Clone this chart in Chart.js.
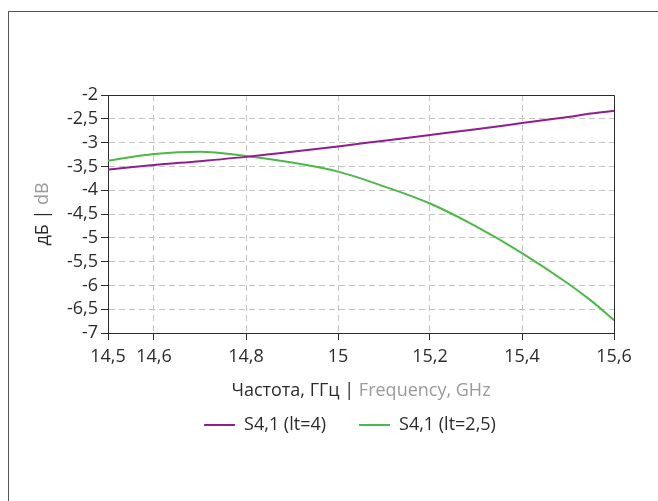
<!DOCTYPE html>
<html>
<head>
<meta charset="utf-8">
<script src="https://cdn.jsdelivr.net/npm/chart.js@4.4.1/dist/chart.umd.min.js"></script>
<style>
  html, body { margin: 0; padding: 0; background: #fff; overflow: hidden; }
</style>
</head>
<body>
<canvas id="chart" width="658" height="501"></canvas>
<script>
// frequency, GHz
const freq = [14.5, 14.6, 14.7, 14.8, 14.9, 15.0, 15.1, 15.2, 15.3, 15.4, 15.5, 15.55, 15.6];
// S4,1, dB
const s41Lt4 = [-3.57, -3.47, -3.39, -3.30, -3.19, -3.08, -2.96, -2.84, -2.72, -2.59, -2.46, -2.39, -2.33];
const s41Lt25 = [-3.38, -3.24, -3.19, -3.28, -3.42, -3.61, -3.92, -4.28, -4.76, -5.32, -5.96, -6.32, -6.73];

const seriesLabels = ['S4,1 (lt=4)', 'S4,1 (lt=2,5)'];
const xTicks = [14.5, 14.6, 14.8, 15.0, 15.2, 15.4, 15.6];
const yTicks = [-2, -2.5, -3, -3.5, -4, -4.5, -5, -5.5, -6, -6.5, -7];
const xTitle = ['Частота, ГГц | ', 'Frequency, GHz'];
const yTitle = ['дБ | ', 'dB'];

const FONT = '"Open Sans", "Noto Sans", sans-serif';
const FS = 18;
const DARK = '#2b2b2b';
const GREY = '#9a9a9a';

const fmt = v => String(Math.round(v * 100) / 100).replace('.', ',');

// frame, plot box and two-colour axis titles
const decorPlugin = {
  id: 'decor',
  afterLayout(chart) {
    // legend sits a little right of the canvas centre in the original
    chart.legend.left += 23;
    chart.legend.right += 23;
  },
  beforeDraw(chart) {
    const ctx = chart.ctx;
    ctx.save();
    ctx.strokeStyle = '#555';
    ctx.lineWidth = 1;
    ctx.strokeRect(8.5, 11.5, 800, 700);
    ctx.restore();
  },
  afterDraw(chart) {
    const {ctx, chartArea: a} = chart;
    ctx.save();
    ctx.strokeStyle = DARK;
    ctx.lineWidth = 1;
    ctx.beginPath();
    ctx.moveTo(a.left, a.top + 0.5);
    ctx.lineTo(a.right + 0.5, a.top + 0.5);
    ctx.lineTo(a.right + 0.5, a.bottom);
    ctx.stroke();

    ctx.font = FS + 'px ' + FONT;
    ctx.textBaseline = 'middle';
    ctx.textAlign = 'left';
    const drawParts = (parts, x, y) => {
      const w0 = ctx.measureText(parts[0]).width;
      const w = w0 + ctx.measureText(parts[1]).width;
      ctx.fillStyle = DARK;
      ctx.fillText(parts[0], x - w / 2, y);
      ctx.fillStyle = GREY;
      ctx.fillText(parts[1], x - w / 2 + w0, y);
    };
    drawParts(xTitle, (a.left + a.right) / 2, a.bottom + 58);
    ctx.translate(43, (a.top + a.bottom) / 2);
    ctx.rotate(-Math.PI / 2);
    drawParts(yTitle, 0, 0);
    ctx.restore();
  }
};

const LEFT_PAD = 40;
const LEG_PAD = 33;

new Chart(document.getElementById('chart'), {
  type: 'line',
  data: {
    labels: freq,
    datasets: [
      {
        label: seriesLabels[0],
        data: freq.map((f, i) => ({x: f, y: s41Lt4[i]})),
        borderColor: '#8e1f8e',
        backgroundColor: '#8e1f8e',
        borderWidth: 2,
        pointRadius: 0,
        cubicInterpolationMode: 'monotone'
      },
      {
        label: seriesLabels[1],
        data: freq.map((f, i) => ({x: f, y: s41Lt25[i]})),
        borderColor: '#4cb848',
        backgroundColor: '#4cb848',
        borderWidth: 2,
        pointRadius: 0,
        cubicInterpolationMode: 'monotone'
      }
    ]
  },
  options: {
    responsive: false,
    animation: false,
    layout: { padding: { top: 95, left: LEFT_PAD, right: 44, bottom: 57 } },
    plugins: {
      tooltip: { enabled: false },
      legend: {
        position: 'bottom',
        labels: {
          usePointStyle: true,
          pointStyle: 'line',
          pointStyleWidth: 31,
          padding: LEG_PAD,
          color: DARK,
          font: { family: FONT, size: FS }
        }
      }
    },
    scales: {
      x: {
        type: 'linear',
        min: 14.5,
        max: 15.6,
        afterBuildTicks: s => { s.ticks = xTicks.map(v => ({value: v})); },
        afterFit: s => { s.height = (425 - LEG_PAD - FS / 2) - 333; },
        ticks: { color: DARK, padding: 6, maxRotation: 0, autoSkip: false,
                 font: { family: FONT, size: FS }, callback: v => fmt(v) },
        grid: { color: '#c4c4c4', tickColor: DARK, tickLength: 7 },
        border: { color: DARK, width: 1, dash: [6, 4] }
      },
      y: {
        min: -7,
        max: -2,
        afterBuildTicks: s => { s.ticks = yTicks.map(v => ({value: v})); },
        afterFit: s => { s.width = 108 - LEFT_PAD; },
        ticks: { color: DARK, padding: 3, autoSkip: false,
                 font: { family: FONT, size: FS }, callback: v => fmt(v) },
        grid: { color: '#c4c4c4', tickColor: DARK, tickLength: 7 },
        border: { color: DARK, width: 1, dash: [6, 4] }
      }
    }
  },
  plugins: [decorPlugin]
});
</script>
</body>
</html>
